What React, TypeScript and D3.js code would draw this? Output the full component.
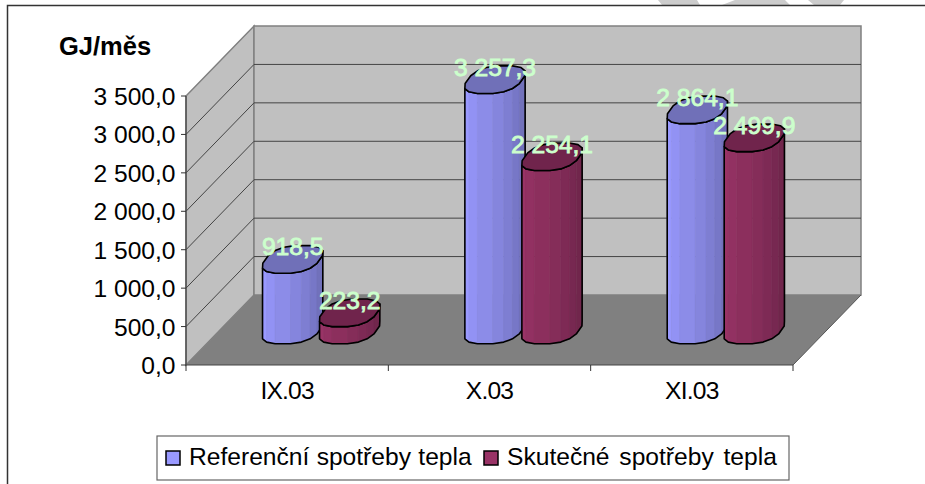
import React from "react";
import * as d3 from "d3";

const categories = ["IX.03", "X.03", "XI.03"];
const seriesNames = ["Referenční spotřeby tepla", "Skutečné spotřeby tepla"];
const referencni = [918.5, 3257.3, 2864.1];
const skutecne = [223.2, 2254.1, 2499.9];
const seriesValues = [referencni, skutecne];
const tickValues = [0, 500, 1000, 1500, 2000, 2500, 3000, 3500];
const seriesColors = [
  { side: ["#9999FF", "#6A6AB0"], top: "#7070B8" },
  { side: ["#993366", "#6A2448"], top: "#70244C" },
];

const FONT = "'Liberation Sans', Arial, sans-serif";
const fmt = (v: number, dec = 1) => {
  const s = v.toFixed(dec).replace(".", ",");
  const [a, b] = s.split(",");
  return a.replace(/\B(?=(\d{3})+$)/g, " ") + "," + b;
};

const x0 = 186, x1 = 793, yFront0 = 365, yFrontTop = 96, depthX = 68, depthY = 70;
const y = d3.scaleLinear().domain([0, 3500]).range([yFront0, yFrontTop]);
const band = d3.scaleBand<string>().domain(categories).range([x0, x1]);
const P = (px: number, v: number, z = 0): [number, number] => [px + z * depthX, y(v) - z * depthY];
const path = (pts: [number, number][]) => "M" + pts.map((p) => p.join(",")).join("L") + "Z";

const R = 27.5, SHEAR = 10, DY = 14, SIDES = 16, PHASE = Math.PI / 16, SQ = 0.78;
const sp = (c: number) => Math.sign(c) * Math.pow(Math.abs(c), SQ);
const ring = (cx: number, cy: number): [number, number][] =>
  d3.range(SIDES).map((i) => {
    const t = PHASE + (i * 2 * Math.PI) / SIDES;
    const a = sp(Math.cos(t));
    const b = sp(Math.sin(t));
    return [cx + R * a + SHEAR * b, cy - DY * b];
  });

function Column({ cx, value, s }: { cx: number; value: number; s: number }) {
  const [bx, by] = P(cx, 0, 0.5);
  const [, ty] = P(cx, value, 0.5);
  const top = ring(bx, ty);
  const base = ring(bx, by);
  const xs = base.map((p) => p[0]);
  const iMax = xs.indexOf(Math.max(...xs));
  const iMin = xs.indexOf(Math.min(...xs));
  const idx: number[] = [];
  let k = iMin;
  while (k !== iMax) {
    idx.push(k);
    k = (k + 1) % SIDES;
  }
  idx.push(iMax);
  const front = d3.mean(idx, (i) => base[i][1])! > by;
  let useIdx = idx;
  if (!front) {
    useIdx = [];
    let q = iMin;
    while (q !== iMax) {
      useIdx.push(q);
      q = (q - 1 + SIDES) % SIDES;
    }
    useIdx.push(iMax);
  }
  const colour = d3.scaleLinear<string>().domain([0, useIdx.length - 2]).range(seriesColors[s].side);
  const outline: [number, number][] = [
    ...useIdx.map((i) => top[i]),
    ...[...useIdx].reverse().map((i) => base[i]),
  ];
  return (
    <g>
      {useIdx.slice(0, -1).map((i, n) => {
        const j = useIdx[n + 1];
        const c = colour(n);
        return <path key={i} d={path([top[i], top[j], base[j], base[i]])} fill={c} stroke={c} strokeWidth={0.6} />;
      })}
      <path d={path(outline)} fill="none" stroke="#000" strokeWidth={1.6} strokeLinejoin="round" />
      <path d={path(top)} fill={seriesColors[s].top} stroke="#000" strokeWidth={1.6} strokeLinejoin="round" />
    </g>
  );
}

export default function App() {
  const offsets = [-28.5, 28.5];
  const wordSpacing = [0.5, 3];
  const labelStyle = { fontFamily: FONT, fontSize: 24.6, fill: "#CCFFCC", stroke: "#CCFFCC", strokeWidth: 0.9, textAnchor: "middle" as const };
  return (
    <svg width={925} height={484} style={{ position: "absolute", left: 0, top: 0, background: "#fff" }}>
      <path d="M658,0 L697,0 L700,5 L662,5 Z M722,5 L735,0 L785,0 L790,5 Z M808,0 L844,0 L840,5 L814,5 Z" fill="#CCCCCC" />
      <path d="M7.5,484 L7.5,5.5 L925,5.5" fill="none" stroke="#333" strokeWidth={1.5} />

      <path d={path([P(x0, 0), P(x0, 3500), P(x0, 3500, 1), P(x0, 0, 1)])} fill="#C0C0C0" stroke="#808080" strokeWidth={1.5} />
      <path d={path([P(x0, 0, 1), P(x0, 3500, 1), P(x1, 3500, 1), P(x1, 0, 1)])} fill="#C0C0C0" stroke="#808080" strokeWidth={1.5} />
      <path d={path([P(x0, 0), P(x1, 0), P(x1, 0, 1), P(x0, 0, 1)])} fill="#808080" />

      {tickValues.slice(1, -1).map((t) => (
        <path key={t} d={`M${P(x0, t)}L${P(x0, t, 1)}L${P(x1, t, 1)}`} fill="none" stroke="#444" strokeWidth={1} />
      ))}

      <path d={`M${x0},${y(3500)}V${y(0)}H${x1}`} fill="none" stroke="#444" strokeWidth={1.2} />
      <path d={`M${x1},${y(0)}L${x1 + depthX},${y(0) - depthY}`} stroke="#555" strokeWidth={1} />
      {tickValues.map((t) => (
        <g key={t}>
          <line x1={x0 - 5} x2={x0} y1={y(t)} y2={y(t)} stroke="#333" strokeWidth={1} />
          <text x={175.5} y={y(t) + 9} textAnchor="end" fontFamily={FONT} fontSize={24.6} fill="#000">{fmt(t)}</text>
        </g>
      ))}
      {[...categories.map((c) => band(c)!), x1].map((v, i) => (
        <line key={i} x1={v} x2={v} y1={y(0)} y2={y(0) + 6} stroke="#333" strokeWidth={1} />
      ))}
      {categories.map((c) => (
        <text key={c} x={band(c)! + band.bandwidth() / 2} y={399} textAnchor="middle" fontFamily={FONT} fontSize={24.6} letterSpacing={-0.8} fill="#000">{c}</text>
      ))}
      <text x={105} y={55} textAnchor="middle" fontFamily={FONT} fontWeight="bold" fontSize={25.5} fill="#000">GJ/měs</text>

      {categories.map((c, i) =>
        seriesValues.map((vals, s) => (
          <Column key={c + s} cx={band(c)! + band.bandwidth() / 2 + offsets[s]} value={vals[i]} s={s} />
        ))
      )}
      {categories.map((c, i) =>
        seriesValues.map((vals, s) => {
          const [lx, ly] = P(band(c)! + band.bandwidth() / 2 + offsets[s], vals[i], 0.5);
          return <text key={c + s} x={lx} y={ly - 4} {...labelStyle}>{fmt(vals[i])}</text>;
        })
      )}

      <rect x={157} y={436} width={632} height={44} fill="#fff" stroke="#666" strokeWidth={1.2} />
      {seriesNames.map((n, s) => {
        const lx = [166, 484][s];
        return (
          <g key={n}>
            <rect x={lx} y={451} width={14} height={14} fill={seriesColors[s].side[0]} stroke="#000" strokeWidth={1.5} />
            <text x={lx + 23} y={465} fontFamily={FONT} fontSize={24.6} wordSpacing={wordSpacing[s]} fill="#000">{n}</text>
          </g>
        );
      })}
    </svg>
  );
}
